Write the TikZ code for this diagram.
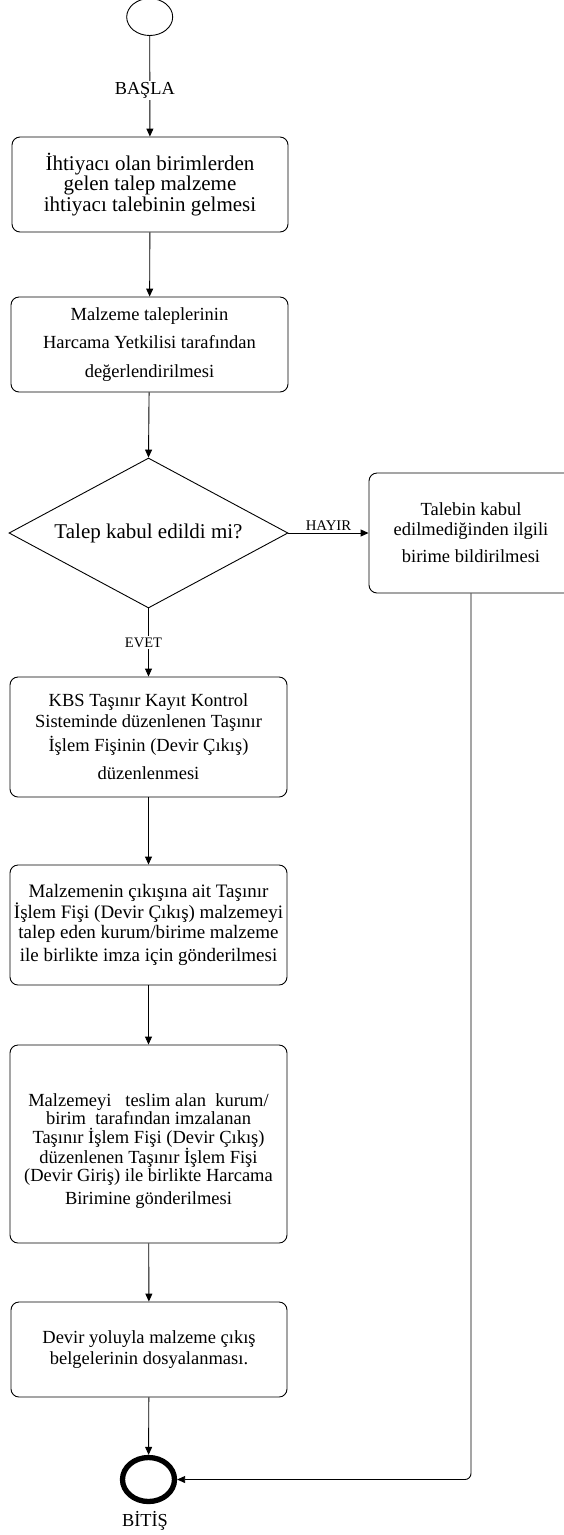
\documentclass[tikz,border=0pt]{standalone}
\usepackage{fontspec}
\setmainfont{Liberation Serif}
\usetikzlibrary{shapes.geometric,arrows.meta}
\begin{document}
\begin{tikzpicture}[x=1pt,y=-1pt,
  box/.style={draw, line width=0.9pt, rounded corners=8pt, align=center, inner sep=0pt, minimum width=277pt},
  arr/.style={line width=0.9pt, -{Triangle[length=8pt,width=7pt]}},
  lbl/.style={fill=white, inner sep=1.5pt},
]
\useasboundingbox (0,0) rectangle (564,1535);
\node[draw, line width=0.9pt, ellipse, minimum width=46pt, minimum height=37pt, inner sep=0pt] (start) at (149.7,17) {};
\node[box, minimum height=95pt, minimum width=276pt, font=\fontsize{21}{18}\selectfont] (b1) at (150,184.5)
  {İhtiyacı olan birimlerden\\gelen talep malzeme\\ihtiyacı talebinin gelmesi};
\node[box, minimum height=95pt, font=\fontsize{18.5}{28.3}\selectfont] (b2) at (149.5,344.5)
  {Malzeme taleplerinin\\Harcama Yetkilisi tarafından\\değerlendirilmesi};
\node[draw, line width=0.9pt, diamond, aspect=1.86, minimum width=279pt, minimum height=150pt, inner sep=0pt, font=\fontsize{21}{24}\selectfont] (dia) at (148.5,533)
  {Talep kabul edildi mi?};
\node[box, minimum width=204pt, minimum height=120pt, font=\fontsize{18.5}{20}\selectfont] (b3) at (471,533)
  {Talebin kabul\\edilmediğinden ilgili\\[7pt]birime bildirilmesi};
\node[box, minimum height=120pt, font=\fontsize{18.5}{20}\selectfont] (b4) at (148.5,737)
  {KBS Taşınır Kayıt Kontrol\\[1pt]Sisteminde düzenlenen Taşınır\\[4pt]İşlem Fişinin (Devir Çıkış)\\[8pt]düzenlenmesi};
\node[box, minimum height=120pt, font=\fontsize{19}{20.5}\selectfont] (b5) at (148.5,925)
  {Malzemenin çıkışına ait Taşınır\\İşlem Fişi (Devir Çıkış) malzemeyi\\talep eden kurum/birime malzeme\\[2pt]ile birlikte imza için gönderilmesi};
\node[box, minimum height=198pt, font=\fontsize{18.5}{18.5}\selectfont] (b6) at (148.5,1144)
  {\rule{0pt}{27pt}Malzemeyi\ \ \ teslim alan\ \ kurum/\\birim\ \ tarafından imzalanan\\Taşınır İşlem Fişi (Devir Çıkış)\\düzenlenen Taşınır İşlem Fişi\\(Devir Giriş) ile birlikte Harcama\\[4.5pt]Birimine gönderilmesi};
\node[box, minimum height=95pt, minimum width=276pt, font=\fontsize{18.5}{21}\selectfont] (b7) at (149,1349.5)
  {Devir yoluyla malzeme çıkış\\belgelerinin dosyalanması.};
\node[draw, line width=5.3pt, ellipse, minimum width=52pt, minimum height=44pt, inner sep=0pt] (end) at (148.5,1479.5) {};
\node[font=\fontsize{18.3}{20}\selectfont, anchor=center] (endlbl) at (145,1521) {BİTİŞ};

\draw[arr] (start) -- node[lbl, xshift=-5pt, yshift=-4pt, font=\fontsize{18.3}{20}\selectfont] {BAŞLA} (b1);
\draw[arr] (b1) -- (b2);
\draw[arr] (b2) -- (dia.north);
\draw[arr] (dia.east) -- node[above, inner sep=2pt, font=\fontsize{14.8}{16}\selectfont] {HAYIR} (b3.west);
\draw[arr] (dia.south) -- node[lbl, xshift=-5pt, font=\fontsize{14.5}{16}\selectfont] {EVET} (b4);
\draw[arr] (b4) -- (b5);
\draw[arr] (b5) -- (b6);
\draw[arr] (b6) -- (b7);
\draw[arr] (b7) -- (end);
\draw[arr, rounded corners=6pt] (b3.south) |- (end.east);
\end{tikzpicture}
\end{document}
